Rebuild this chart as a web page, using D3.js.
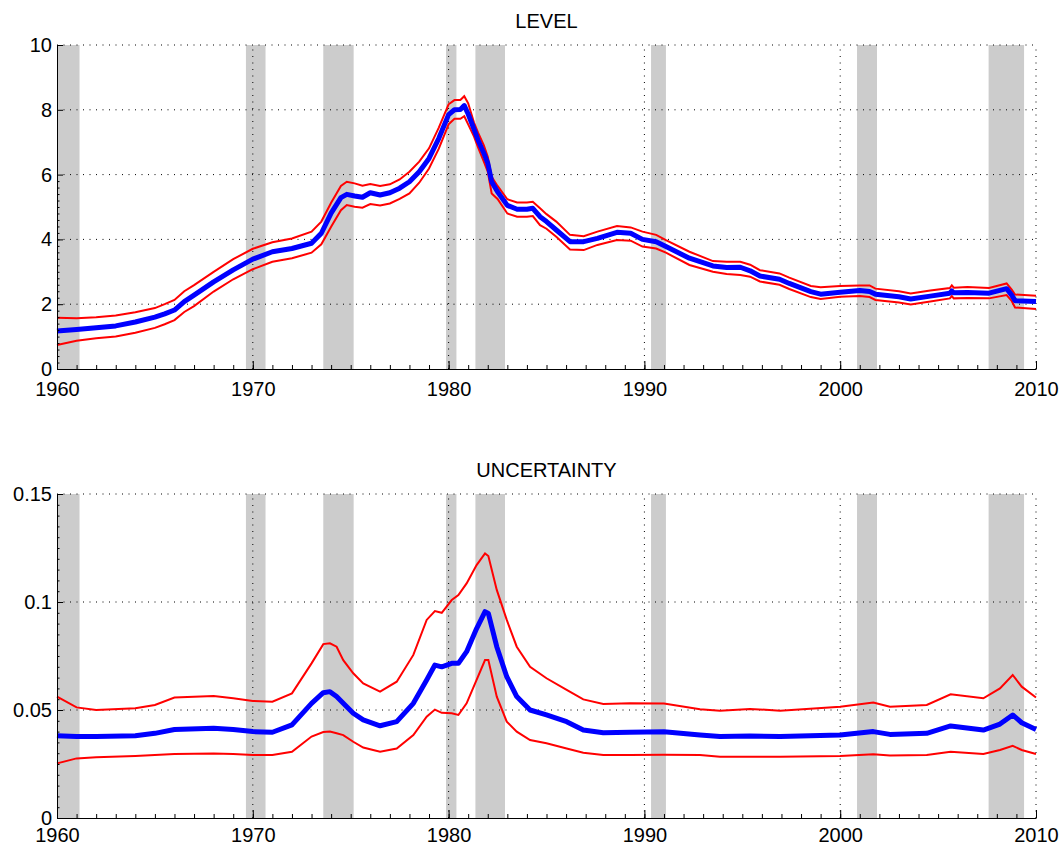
<!DOCTYPE html>
<html>
<head>
<meta charset="utf-8">
<script src="https://cdn.jsdelivr.net/npm/d3@7"></script>
<style>
  body { margin: 0; background: #fff; }
  svg { display: block; font-family: "Liberation Sans", Arial, sans-serif; }
  .grid line { stroke: #000; stroke-width: 1; stroke-dasharray: 1,5.5; }
  .axis path, .axis line { stroke: #000; }
  .axis text { font-size: 20px; fill: #000; }
</style>
</head>
<body>
<svg id="chart" width="1062" height="846"></svg>
<script>
// NBER-style recession shading [start, end]
var recessions = [[1960.0, 1961.15], [1969.65, 1970.65], [1973.6, 1975.15], [1979.87, 1980.4],
                  [1981.37, 1982.88], [1990.34, 1991.1], [2000.86, 2001.88], [2007.58, 2009.39]];

// LEVEL panel: median and band
var levelYears = [1960, 1961, 1962, 1963, 1964, 1965, 1965.5, 1966, 1966.5, 1967, 1968, 1969, 1970, 1971, 1972,
  1973, 1973.5, 1974, 1974.5, 1974.8, 1975.2, 1975.6, 1976, 1976.5, 1977, 1977.5, 1978, 1978.5, 1979, 1979.5,
  1980, 1980.3, 1980.6, 1980.8, 1981, 1981.3, 1981.5, 1981.8, 1982, 1982.2, 1982.5, 1983, 1983.5, 1984, 1984.3,
  1984.67, 1985, 1985.5, 1986.2, 1986.9, 1987.6, 1988.6, 1989.3, 1989.9, 1990.6, 1991.1, 1992.3, 1993.5, 1994.2,
  1994.9, 1995.4, 1995.9, 1996.9, 1997.4, 1998.5, 1999, 2000, 2001, 2001.5, 2001.8, 2003, 2003.6, 2004.6, 2005.6,
  2005.7, 2005.8, 2006.5, 2007.6, 2008.5, 2008.76, 2008.93, 2010];
var levelMid = [1.17, 1.22, 1.27, 1.33, 1.45, 1.60, 1.70, 1.82, 2.08, 2.28, 2.69, 3.06, 3.39, 3.62, 3.72,
  3.88, 4.19, 4.81, 5.29, 5.39, 5.34, 5.30, 5.44, 5.37, 5.44, 5.58, 5.78, 6.09, 6.50, 7.12,
  7.85, 8.00, 8.01, 8.13, 7.87, 7.40, 7.07, 6.66, 6.35, 5.78, 5.47, 5.05, 4.93, 4.93, 4.96,
  4.70, 4.55, 4.29, 3.93, 3.93, 4.03, 4.22, 4.19, 4.00, 3.93, 3.78, 3.42, 3.18, 3.13,
  3.14, 3.03, 2.87, 2.77, 2.64, 2.39, 2.31, 2.37, 2.42, 2.39, 2.31, 2.23, 2.16, 2.25, 2.34,
  2.41, 2.35, 2.36, 2.34, 2.48, 2.28, 2.11, 2.08];
var levelHi = [1.58, 1.57, 1.60, 1.65, 1.75, 1.88, 2.00, 2.13, 2.40, 2.59, 3.00, 3.39, 3.71, 3.91, 4.03,
  4.24, 4.55, 5.13, 5.65, 5.78, 5.73, 5.66, 5.71, 5.65, 5.70, 5.85, 6.09, 6.40, 6.81, 7.45,
  8.17, 8.30, 8.30, 8.42, 8.20, 7.60, 7.30, 6.90, 6.55, 5.93, 5.65, 5.24, 5.14, 5.14, 5.16,
  4.96, 4.78, 4.55, 4.14, 4.10, 4.24, 4.41, 4.37, 4.24, 4.14, 3.98, 3.62, 3.33, 3.31,
  3.31, 3.22, 3.05, 2.95, 2.82, 2.56, 2.52, 2.56, 2.58, 2.58, 2.48, 2.40, 2.33, 2.42, 2.50,
  2.58, 2.51, 2.53, 2.50, 2.64, 2.45, 2.30, 2.26];
var levelLo = [0.74, 0.87, 0.95, 1.00, 1.12, 1.27, 1.38, 1.51, 1.76, 1.94, 2.39, 2.77, 3.08, 3.31, 3.42,
  3.59, 3.85, 4.39, 4.90, 5.06, 5.01, 4.98, 5.09, 5.05, 5.11, 5.25, 5.42, 5.75, 6.19, 6.80,
  7.55, 7.72, 7.72, 7.80, 7.55, 7.17, 6.85, 6.40, 6.09, 5.42, 5.25, 4.80, 4.70, 4.70, 4.72,
  4.44, 4.33, 4.08, 3.69, 3.67, 3.83, 3.98, 3.96, 3.78, 3.72, 3.59, 3.21, 3.00, 2.93,
  2.90, 2.85, 2.70, 2.60, 2.47, 2.22, 2.16, 2.23, 2.25, 2.22, 2.13, 2.05, 1.99, 2.08, 2.18,
  2.25, 2.18, 2.19, 2.18, 2.28, 2.10, 1.90, 1.85];

// UNCERTAINTY panel: median and band
var uncYears = [1960, 1961, 1962, 1964, 1965, 1966, 1968, 1969, 1970, 1971, 1972, 1973, 1973.6, 1973.94,
  1974.28, 1974.62, 1975.13, 1975.64, 1976.5, 1977.35, 1978.2, 1978.88, 1979.3, 1979.65, 1980.16, 1980.5,
  1980.92, 1981.43, 1981.86, 1982.03, 1982.46, 1982.97, 1983.48, 1984.16, 1985, 1986.03, 1986.88, 1987.9,
  1989.26, 1991, 1992.84, 1993.86, 1995.39, 1996.93, 2000, 2001.69, 2002.54, 2004.42, 2005.64, 2007.31,
  2008.16, 2008.81, 2009.27, 2010];
var uncMid = [0.0381, 0.0377, 0.0377, 0.0381, 0.0392, 0.0410, 0.0415, 0.0410, 0.0400, 0.0397, 0.0431, 0.0531,
  0.0580, 0.0585, 0.0562, 0.0531, 0.0485, 0.0454, 0.0427, 0.0446, 0.0531, 0.0639, 0.0708, 0.0700, 0.0716,
  0.0716, 0.0770, 0.0877, 0.0955, 0.0947, 0.0793, 0.0654, 0.0562, 0.0500, 0.0477, 0.0446, 0.0407, 0.0395,
  0.0397, 0.0399, 0.0384, 0.0377, 0.0380, 0.0377, 0.0384, 0.0400, 0.0387, 0.0392, 0.0426, 0.0407,
  0.0435, 0.0477, 0.0441, 0.0410];
var uncHi = [0.0562, 0.0512, 0.0500, 0.0508, 0.0523, 0.0558, 0.0565, 0.0554, 0.0542, 0.0538, 0.0577, 0.0716,
  0.0805, 0.0809, 0.0793, 0.0731, 0.0670, 0.0623, 0.0585, 0.0631, 0.0755, 0.0917, 0.0958, 0.0950, 0.1009,
  0.1032, 0.1086, 0.1171, 0.1225, 0.1213, 0.1056, 0.0917, 0.0793, 0.0700, 0.0647, 0.0593, 0.0549, 0.0528,
  0.0531, 0.0530, 0.0503, 0.0497, 0.0505, 0.0497, 0.0515, 0.0535, 0.0515, 0.0523, 0.0573, 0.0554,
  0.0600, 0.0662, 0.0608, 0.0558];
var uncLo = [0.0253, 0.0276, 0.0281, 0.0287, 0.0292, 0.0296, 0.0299, 0.0296, 0.0292, 0.0292, 0.0307, 0.0377,
  0.0398, 0.0400, 0.0392, 0.0384, 0.0353, 0.0326, 0.0307, 0.0322, 0.0384, 0.0469, 0.0502, 0.0487, 0.0485,
  0.0477, 0.0531, 0.0639, 0.0731, 0.0731, 0.0562, 0.0446, 0.0400, 0.0361, 0.0346, 0.0322, 0.0302, 0.0292,
  0.0292, 0.0293, 0.0292, 0.0284, 0.0284, 0.0284, 0.0287, 0.0295, 0.0289, 0.0292, 0.0307, 0.0296,
  0.0315, 0.0334, 0.0315, 0.0296];

var xTicks = [1960, 1970, 1980, 1990, 2000, 2010];
var levelTicks = [0, 2, 4, 6, 8, 10];
var uncTicks = [0, 0.05, 0.1, 0.15];

var svg = d3.select("#chart");
var x = d3.scaleLinear().domain([1960, 2010]).range([57, 1036]);

function drawPanel(cfg) {
  var y = d3.scaleLinear().domain(cfg.domain).range([cfg.bottom, cfg.top]);
  var g = svg.append("g");

  // recession bars
  g.selectAll("rect.rec")
    .data(recessions)
    .enter().append("rect")
    .attr("class", "rec")
    .attr("x", function(d) { return x(d[0]); })
    .attr("width", function(d) { return x(d[1]) - x(d[0]); })
    .attr("y", cfg.top)
    .attr("height", cfg.bottom - cfg.top)
    .attr("fill", "#cccccc");

  // dotted grid
  var grid = g.append("g").attr("class", "grid");
  grid.selectAll("line.v")
    .data(xTicks.slice(1))
    .enter().append("line")
    .attr("x1", function(d) { return x(d); })
    .attr("x2", function(d) { return x(d); })
    .attr("y1", cfg.bottom)
    .attr("y2", cfg.top);
  grid.selectAll("line.h")
    .data(cfg.ticks.slice(1))
    .enter().append("line")
    .attr("y1", function(d) { return y(d); })
    .attr("y2", function(d) { return y(d); })
    .attr("x1", x(1960))
    .attr("x2", x(2010));

  var line = function(vals) {
    return d3.line()
      .x(function(d, i) { return x(cfg.years[i]); })
      .y(function(d) { return y(d); })(vals);
  };
  g.append("path").attr("d", line(cfg.hi)).attr("fill", "none")
    .attr("stroke", "#ff0000").attr("stroke-width", 2);
  g.append("path").attr("d", line(cfg.lo)).attr("fill", "none")
    .attr("stroke", "#ff0000").attr("stroke-width", 2);
  g.append("path").attr("d", line(cfg.mid)).attr("fill", "none")
    .attr("stroke", "#0000ff").attr("stroke-width", 5).attr("stroke-linejoin", "round");

  // minor ticks
  g.append("g").attr("class", "axis")
    .attr("transform", "translate(0," + cfg.bottom + ")")
    .call(d3.axisBottom(x).tickValues(d3.range(1961, 2010)).tickSize(-4).tickSizeOuter(0).tickFormat(""))
    .select(".domain").remove();
  g.append("g").attr("class", "axis")
    .attr("transform", "translate(" + x(1960) + ",0)")
    .call(d3.axisLeft(y).tickValues(d3.range(1, 30).map(function(i) { return i * cfg.minor; }))
      .tickSize(-2.5).tickSizeOuter(0).tickFormat(""))
    .select(".domain").remove();

  // main axes
  g.append("g").attr("class", "axis")
    .attr("transform", "translate(0," + cfg.bottom + ")")
    .call(d3.axisBottom(x).tickValues(xTicks).tickSize(-8).tickSizeOuter(0)
      .tickPadding(cfg.xPad).tickFormat(d3.format("d")));
  g.append("g").attr("class", "axis")
    .attr("transform", "translate(" + x(1960) + ",0)")
    .call(d3.axisLeft(y).tickValues(cfg.ticks).tickSize(-6).tickSizeOuter(0)
      .tickPadding(5).tickFormat(d3.format("~g")));

  svg.append("text")
    .attr("x", (x(1960) + x(2010)) / 2)
    .attr("y", cfg.top - 17)
    .attr("text-anchor", "middle")
    .style("font-size", "20px")
    .text(cfg.title);
}

drawPanel({ title: "LEVEL", top: 45, bottom: 369, domain: [0, 10], ticks: levelTicks, minor: 0.2, xPad: 13,
  years: levelYears, mid: levelMid, hi: levelHi, lo: levelLo });
drawPanel({ title: "UNCERTAINTY", top: 494, bottom: 818, domain: [0, 0.15], ticks: uncTicks, minor: 0.005, xPad: 10,
  years: uncYears, mid: uncMid, hi: uncHi, lo: uncLo });
</script>
</body>
</html>
